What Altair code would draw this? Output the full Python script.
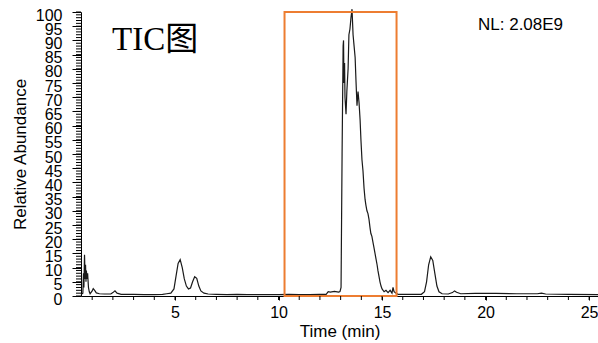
import altair as alt
import pandas as pd

# Total ion chromatogram: retention time (min) and relative abundance (%)
time_min = [
    0.46, 0.55, 0.58, 0.60, 0.63, 0.66, 0.68, 0.70, 0.72, 0.75, 0.78, 0.82, 0.86, 0.90,
    1.00, 1.05, 1.12, 1.20, 1.35, 1.60, 1.90, 2.00, 2.10, 2.20, 2.40, 3.00, 3.50, 4.00,
    4.40, 4.60, 4.80, 4.95, 5.05, 5.15, 5.25, 5.35, 5.45, 5.55, 5.65, 5.75, 5.85, 5.95,
    6.05, 6.15, 6.25, 6.40, 6.60, 7.00, 7.50, 8.00, 8.50, 9.00, 9.50, 10.00, 10.50,
    11.00, 11.50, 12.00, 12.30, 12.40, 12.50, 12.70, 12.90, 12.97,
    13.02, 13.07, 13.12, 13.14, 13.16, 13.19, 13.21, 13.26, 13.30, 13.36, 13.40, 13.45,
    13.50, 13.55, 13.60, 13.65, 13.70, 13.74, 13.79, 13.84, 13.89, 13.94, 13.98, 14.03,
    14.08, 14.13, 14.18, 14.22, 14.27, 14.32, 14.37, 14.42, 14.46, 14.51, 14.56, 14.61,
    14.66, 14.71, 14.76, 14.80, 14.85, 14.90, 14.95, 15.00, 15.10, 15.19, 15.29, 15.39,
    15.48, 15.53, 15.58, 15.68, 15.77, 16.00, 16.50, 16.90, 17.05, 17.15, 17.25, 17.35,
    17.45, 17.55, 17.65, 17.75, 17.90, 18.20, 18.40, 18.50, 18.60, 18.80, 19.50, 20.50,
    21.50, 22.50, 22.70, 22.90, 24.00, 25.43,
]
rel_abundance = [
    0.5, 1.0, 8.0, 3.0, 14.5, 6.0, 11.0, 5.0, 9.0, 6.0, 8.0, 3.0, 1.5, 0.8,
    1.8, 2.6, 2.0, 1.1, 0.8, 0.7, 0.7, 1.2, 1.8, 1.0, 0.6, 0.6, 0.5, 0.5,
    0.6, 0.8, 1.0, 2.5, 7.0, 11.5, 12.8, 10.0, 6.0, 3.5, 2.5, 2.8, 5.0, 6.8,
    6.2, 3.5, 1.8, 1.0, 0.7, 0.6, 0.5, 0.6, 0.5, 0.5, 0.5, 0.5, 0.6,
    0.5, 0.5, 0.6, 0.6, 1.5, 1.4, 1.6, 1.4, 1.6,
    3.0, 50.0, 88.0, 90.0, 75.0, 82.0, 70.0, 64.0, 72.0, 80.0, 92.0, 94.0,
    98.0, 101.0, 92.0, 88.0, 84.0, 76.0, 67.0, 72.0, 68.0, 62.0, 55.0, 48.0,
    44.0, 38.0, 34.0, 32.0, 30.0, 29.0, 27.0, 24.0, 22.0, 21.0, 19.0, 17.0,
    15.0, 13.0, 11.0, 9.0, 7.0, 5.0, 3.5, 2.5, 1.5, 2.0, 1.2, 2.0,
    1.0, 3.0, 1.5, 1.0, 0.6, 0.6, 0.6, 0.6, 1.5, 5.0, 11.0, 13.8,
    12.5, 8.0, 3.5, 1.5, 0.8, 0.7, 1.2, 1.8, 1.3, 0.8, 0.9, 0.9,
    0.8, 0.8, 1.0, 0.7, 0.6, 0.5,
]

# Highlighted retention window
box_start = [10.29]
box_end = [15.70]
box_low = [0]
box_high = [100]

# Axis ticks: labelled majors and unlabelled minors
x_major = [5, 10, 15, 20, 25]
x_minor = list(range(1, 26))
y_major = list(range(0, 101, 5))
y_minor = list(range(0, 101))

trace = pd.DataFrame({"t": time_min, "ra": rel_abundance})
window = pd.DataFrame({"t0": box_start, "t1": box_end, "lo": box_low, "hi": box_high})

x_scale = alt.Scale(domain=[0.46, 25.43], nice=False, zero=False)
y_scale = alt.Scale(domain=[0, 100], nice=False)

font = "Liberation Sans"

line = alt.Chart(trace).mark_line(
    color="#1a1a1a", strokeWidth=1.2, clip=False
).encode(
    x=alt.X("t:Q", scale=x_scale, axis=alt.Axis(
        title="Time (min)", values=x_major, ticks=True,
        labelOverlap=False, tickSize=4, labelPadding=4,
        labelFontSize=16, labelFont=font, labelColor="black",
        titleFontSize=17, titleFont=font, titleFontWeight="normal",
        titleColor="black", titlePadding=3,
        domainColor="black", tickColor="black", grid=False,
    )),
    y=alt.Y("ra:Q", scale=y_scale, axis=alt.Axis(
        title="Relative Abundance", values=y_major, ticks=True,
        labelOverlap=False, tickSize=9,
        labelPadding=10, labelOffset=3, labelFontSize=16, labelFont=font,
        labelColor="black", titleFontSize=17, titleFont=font,
        titleFontWeight="normal", titleColor="black", titlePadding=6,
        domainColor="black", tickColor="black", grid=False,
    )),
)

# Minor tick marks, drawn just outside the plot area
x_minor_ticks = alt.Chart(pd.DataFrame({"t": x_minor})).mark_rule(
    color="black", strokeWidth=1, clip=False
).encode(
    x=alt.X("t:Q", scale=x_scale, axis=None),
    y=alt.value(284), y2=alt.value(288),
)

y_minor_ticks = alt.Chart(pd.DataFrame({"v": y_minor})).mark_rule(
    color="black", strokeWidth=1, clip=False
).encode(
    y=alt.Y("v:Q", scale=y_scale, axis=None),
    x=alt.value(-5), x2=alt.value(0),
)

box = alt.Chart(window).mark_rect(
    fill=None, stroke="#ED7D31", strokeWidth=2
).encode(
    x=alt.X("t0:Q", scale=x_scale, axis=None),
    x2="t1:Q",
    y=alt.Y("lo:Q", scale=y_scale, axis=None),
    y2="hi:Q",
)

title = alt.Chart(pd.DataFrame({"s": ["TIC图"]})).mark_text(
    align="left", baseline="alphabetic", fontSize=33,
    font="Liberation Serif, Noto Sans CJK SC", color="black",
).encode(text="s:N", x=alt.value(31), y=alt.value(38))

nl = alt.Chart(pd.DataFrame({"s": ["NL: 2.08E9"]})).mark_text(
    align="left", baseline="middle", fontSize=17, font=font, color="black",
).encode(text="s:N", x=alt.value(397), y=alt.value(13))

chart = alt.layer(line, box, x_minor_ticks, y_minor_ticks, title, nl).resolve_axis(
    x="independent", y="independent"
).properties(
    width=517, height=284,
    autosize=alt.AutoSizeParams(type="none"),
    padding={"left": 81, "top": 12, "right": 0, "bottom": 47},
    background="white",
).configure_view(stroke=None)

chart.save("out.html", embed_options={"renderer": "svg", "actions": False})
